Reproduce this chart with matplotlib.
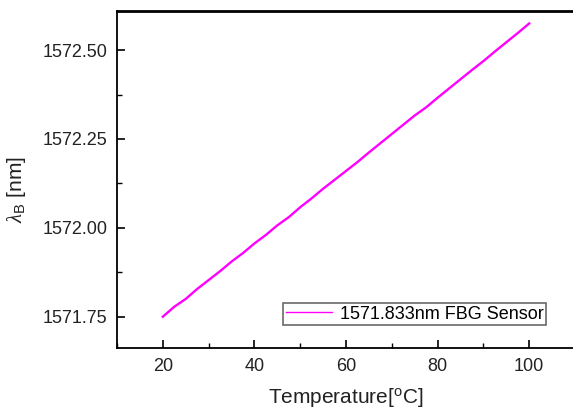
import matplotlib
matplotlib.use("Agg")
import matplotlib.pyplot as plt
from matplotlib.ticker import MultipleLocator

plt.rcParams['font.family'] = ['Liberation Sans', 'DejaVu Sans']
plt.rcParams['mathtext.fontset'] = 'custom'
plt.rcParams['mathtext.rm'] = 'Liberation Sans'
plt.rcParams['mathtext.it'] = 'Liberation Serif:italic'

# readings taken off the reference curve
temperature = [20.0, 22.5, 25.0, 27.5, 30.0, 32.5, 35.0, 37.5, 40.0, 42.5,
               45.0, 47.5, 50.0, 52.5, 55.0, 57.5, 60.0, 62.5, 65.0, 67.5,
               70.0, 72.5, 75.0, 77.5, 80.0, 82.5, 85.0, 87.5, 90.0, 92.5,
               95.0, 97.5, 100.0]
wavelength = [1571.750, 1571.778, 1571.800, 1571.828, 1571.853, 1571.878,
              1571.905, 1571.929, 1571.956, 1571.980, 1572.007, 1572.030,
              1572.058, 1572.083, 1572.110, 1572.135, 1572.160, 1572.185,
              1572.212, 1572.238, 1572.264, 1572.290, 1572.316, 1572.339,
              1572.366, 1572.392, 1572.418, 1572.444, 1572.469, 1572.496,
              1572.522, 1572.548, 1572.575]
series_label = "1571.833nm FBG Sensor"

fig = plt.figure(figsize=(5.73, 4.12), dpi=100)
ax = fig.add_axes([117 / 573, 1 - 348 / 412, 458 / 573, 337 / 412])

ax.plot(temperature, wavelength, color='#ff00ff', lw=1.7, label=series_label)

ax.set_xlim(10, 110)
ax.set_ylim(1571.662, 1572.61)
ax.xaxis.set_major_locator(MultipleLocator(20))
ax.xaxis.set_minor_locator(MultipleLocator(10))
ax.yaxis.set_major_locator(MultipleLocator(0.25))
ax.yaxis.set_minor_locator(MultipleLocator(0.125))
ax.yaxis.set_major_formatter(plt.FormatStrFormatter('%.2f'))
ax.tick_params(which='major', direction='in', length=6, width=1.2,
               labelsize=13, labelcolor='#222222', pad=7)
ax.tick_params(which='minor', direction='in', length=3.5, width=1.0)
for s in ax.spines.values():
    s.set_linewidth(1.3)
ax.spines['top'].set_linewidth(2.0)

ax.set_xlabel('Temperature[$^{\\mathrm{o}}$C]', fontsize=15, color='#222222')
ax.xaxis.set_label_coords(0.5, -0.113)
ax.set_ylabel('$\\lambda_{\\mathrm{B}}$ [nm]', fontsize=15, color='#222222')
ax.yaxis.set_label_coords(-0.195, 0.47)

leg = ax.legend(loc='lower right', bbox_to_anchor=(0.937, 0.067), fontsize=13,
                frameon=True, fancybox=False, handlelength=2.6, borderpad=0.15,
                handletextpad=0.4, borderaxespad=0)
leg.get_frame().set_edgecolor('#444444')
leg.get_frame().set_linewidth(1.2)
leg.get_lines()[0].set_linewidth(1.0)

fig.savefig('out.png', dpi=100)
